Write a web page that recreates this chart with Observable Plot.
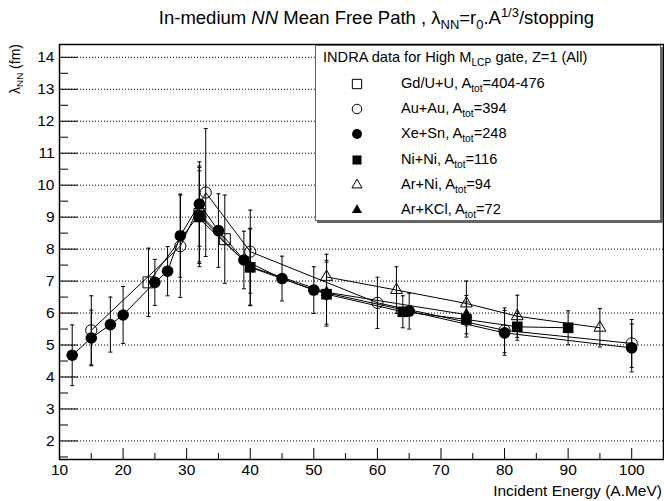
<!DOCTYPE html>
<html><head><meta charset="utf-8">
<script src="https://cdn.jsdelivr.net/npm/d3@7"></script>
<script src="https://cdn.jsdelivr.net/npm/@observablehq/plot@0.6"></script>
<style>
body{margin:0;background:#fff;font-family:"Liberation Sans",Arial,Helvetica,sans-serif;color:#000;}
#wrap{position:relative;width:664px;height:501px;overflow:hidden;}
#title{position:absolute;right:70px;top:7px;font-size:18.5px;white-space:nowrap;}
.s{font-size:70%;vertical-align:-0.35em;line-height:0;}
.p{font-size:70%;vertical-align:0.55em;line-height:0;}
#ylab{position:absolute;left:7px;top:44px;transform-origin:0 0;transform:rotate(-90deg) translateX(-100%);font-size:14px;white-space:nowrap;}
#xlab{position:absolute;right:2px;top:482px;font-size:15.5px;line-height:17px;white-space:nowrap;}
#legend{position:absolute;left:315px;top:45px;width:344px;height:174px;border:1px solid #666;box-shadow:2px 2px 0 #666;background:#fff;font-size:14.6px;}
#legend .hdr{position:absolute;left:7px;top:3px;white-space:nowrap;}
#legend .row{position:absolute;left:0;height:20px;width:340px;white-space:nowrap;}
#legend .row svg{position:absolute;left:31px;top:0;}
#legend .row .txt{position:absolute;left:85px;top:1px;}
</style></head>
<body>
<div id="wrap">
<div id="title">In-medium <i>NN</i> Mean Free Path , λ<span class="s">NN</span>=r<span class="s">0</span>.A<span class="p">1/3</span>/stopping</div>
<div id="ylab">λ<span class="s">NN</span> (fm)</div>
<div id="xlab">Incident Energy (A.MeV)</div>
<div id="chart"></div>
<div id="legend"><div class="hdr">INDRA data for High M<span class="s">LCP</span> gate, Z=1 (All)</div></div>
</div>
<script>
// ---- data ----
const seriesNames = ["Gd/U+U", "Au+Au", "Xe+Sn", "Ni+Ni", "Ar+Ni", "Ar+KCl"];
const seriesAtot = ["404-476", "394", "248", "116", "94", "72"];

const gduE = [24, 32, 36];
const gduL = [6.96, 9.1, 8.31];
const gduErr = [1.07, 1.5, 1.38];

const auE = [15, 29, 33, 40, 60, 80, 100];
const auL = [5.46, 8.09, 9.77, 7.92, 6.32, 5.46, 5.05];
const auErr = [1.08, 1.6, 2.0, 1.3, 0.8, 0.7, 0.75];

const xeE = [12, 15, 18, 20, 25, 27, 29, 32, 35, 39, 45, 50, 65, 80, 100];
const xeL = [4.68, 5.22, 5.64, 5.94, 6.96, 7.31, 8.42, 9.41, 8.58, 7.66, 7.08, 6.72, 6.06, 5.38, 4.91];
const xeErr = [0.95, 0.87, 0.86, 0.89, 0.72, 0.77, 1.3, 1.32, 1.15, 0.9, 0.7, 0.73, 0.56, 0.7, 0.75];

const niE = [32, 40, 52, 64, 74, 82, 90];
const niL = [9.05, 7.43, 6.59, 6.04, 5.8, 5.57, 5.54];
const niErr = [1.5, 1.2, 1.0, 0.5, 0.55, 0.42, 0.53];

const arNiE = [52, 63, 74, 82, 95];
const arNiL = [7.13, 6.72, 6.3, 5.9, 5.54];
const arNiErr = [0.71, 0.73, 0.7, 0.66, 0.6];

const arKE = [32, 40, 52, 74];
const arKL = [8.95, 7.45, 6.65, 5.95];
const arKErr = [1.5, 1.2, 1.0, 0.6];

const xMajor = [10, 20, 30, 40, 50, 60, 70, 80, 90, 100];
const xMinor = [15, 25, 35, 45, 55, 65, 75, 85, 95];
const yMajor = [2, 3, 4, 5, 6, 7, 8, 9, 10, 11, 12, 13, 14];
const yMinor = [1.5, 2.5, 3.5, 4.5, 5.5, 6.5, 7.5, 8.5, 9.5, 10.5, 11.5, 12.5, 13.5];

// ---- build table ----
const raw = [[gduE, gduL, gduErr], [auE, auL, auErr], [xeE, xeL, xeErr], [niE, niL, niErr], [arNiE, arNiL, arNiErr], [arKE, arKL, arKErr]];
const rows = raw.flatMap(([E, L, err], k) => E.map((e, i) => ({series: seriesNames[k], E: e, L: L[i], err: err[i]})));

const style = {
  "Gd/U+U": {symbol: "square", fill: false, r: 6.2},
  "Au+Au": {symbol: "circle", fill: false, r: 5.6},
  "Xe+Sn": {symbol: "circle", fill: true, r: 5.8},
  "Ni+Ni": {symbol: "square", fill: true, r: 6.0},
  "Ar+Ni": {symbol: "triangle", fill: false, r: 4.4},
  "Ar+KCl": {symbol: "triangle", fill: true, r: 4.4}
};
const cap = {draw(ctx) { ctx.moveTo(-2, 0); ctx.lineTo(2, 0); }};

const dotMarks = seriesNames.map(n => Plot.dot(rows.filter(d => d.series === n), {
  x: "E", y: "L", symbol: style[n].symbol, r: style[n].r,
  fill: style[n].fill ? "#000" : "none", stroke: "#000", strokeWidth: style[n].fill ? 0 : 1
}));

const chart = Plot.plot({
  width: 664, height: 501,
  marginTop: 44, marginRight: 1, marginBottom: 42, marginLeft: 59,
  style: {fontFamily: "Liberation Sans, Arial, sans-serif", background: "transparent"},
  x: {domain: [10, 105], label: null},
  y: {domain: [1.42, 14.4], label: null},
  marks: [
    Plot.ruleY(yMajor, {stroke: "#000", strokeWidth: 1, strokeDasharray: "1,2"}),
    Plot.axisY(yMajor, {tickSize: 19, dx: 19, text: null, stroke: "#000", label: null}),
    Plot.axisY(yMinor, {tickSize: 9, dx: 9, text: null, stroke: "#000", label: null}),
    Plot.axisY(yMajor, {tickSize: 0, tickPadding: 5, fontSize: 15.5, fill: "#000", label: null}),
    Plot.axisX(xMajor, {tickSize: 11, dy: -11, text: null, stroke: "#000", label: null}),
    Plot.axisX(xMinor, {tickSize: 6, dy: -6, text: null, stroke: "#000", label: null}),
    Plot.axisX(xMajor, {tickSize: 0, tickPadding: 4, fontSize: 15.5, fill: "#000", label: null}),
    Plot.ruleX(rows, {x: "E", y1: d => d.L - d.err, y2: d => d.L + d.err, stroke: "#000", strokeWidth: 1}),
    Plot.dot(rows, {x: "E", y: d => d.L + d.err, symbol: cap, stroke: "#000", fill: "none", strokeWidth: 1}),
    Plot.dot(rows, {x: "E", y: d => d.L - d.err, symbol: cap, stroke: "#000", fill: "none", strokeWidth: 1}),
    Plot.line(rows, {x: "E", y: "L", z: "series", stroke: "#000", strokeWidth: 1}),
    ...dotMarks,
    Plot.frame({stroke: "#000", strokeWidth: 1.5})
  ]
});
document.getElementById("chart").appendChild(chart);

// ---- legend ----
const leg = d3.select("#legend");
seriesNames.forEach((n, i) => {
  const row = leg.append("div").attr("class", "row").style("top", (28 + i * 25.2) + "px");
  const svg = row.append("svg").attr("width", 20).attr("height", 20);
  const st = style[n];
  const sym = st.symbol === "square" ? d3.symbolSquare : st.symbol === "circle" ? d3.symbolCircle : d3.symbolTriangle;
  const r = st.r * 0.85;
  svg.append("path").attr("transform", "translate(10,10)")
    .attr("d", d3.symbol(sym, Math.PI * r * r)())
    .attr("fill", st.fill ? "#000" : "none").attr("stroke", st.fill ? "none" : "#000").attr("stroke-width", 1);
  row.append("span").attr("class", "txt").html(`${n}, A<span class="s">tot</span>=${seriesAtot[i]}`);
});
</script>
</body></html>
